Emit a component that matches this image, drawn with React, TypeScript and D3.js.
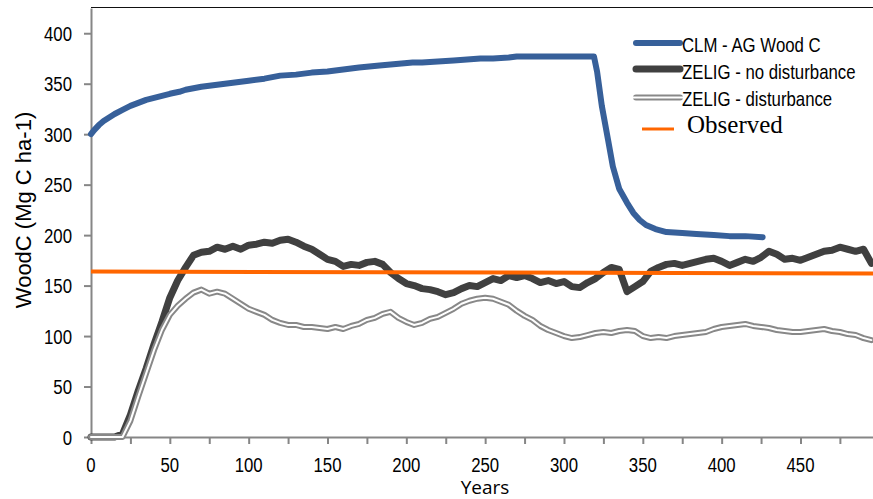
import React, { useEffect, useRef } from 'react';
import * as d3 from 'd3';

// CLM above-ground wood carbon (Mg C / ha)
const clmYears = [0, 2, 5, 8, 10, 15, 20, 25, 30, 35, 40, 45, 50, 56, 60, 70, 80, 90, 100, 110,
	120, 130, 140, 150, 160, 170, 183, 190, 204, 210, 220, 230, 247, 255, 265, 270, 280, 290, 300, 310,
	319, 321, 324, 328, 331, 335, 340, 344, 348, 352, 358, 365, 375, 384, 395, 405, 415, 426];
const clmValues = [300, 304, 309, 313, 315, 320, 324, 328, 331, 334, 336, 338, 340, 342, 344, 347, 349, 351, 353, 355,
	358, 359, 361, 362, 364, 366, 368, 369, 371, 371, 372, 373, 375, 375, 376, 377, 377, 377, 377, 377,
	377, 362, 328, 294, 268, 246, 232, 222, 215, 210, 206, 203, 202, 201, 200, 199, 199, 198];

const zeligYears = [0, 5, 10, 15, 20, 25, 30, 35, 40, 45, 50, 55, 60, 65, 70, 75, 80, 85, 90, 95,
	100, 105, 110, 115, 120, 125, 130, 135, 140, 145, 150, 155, 160, 165, 170, 175, 180, 185, 190, 195,
	200, 205, 210, 215, 220, 225, 230, 235, 240, 245, 250, 255, 260, 265, 270, 275, 280, 285, 290, 295,
	300, 305, 310, 315, 320, 325, 330, 335, 340, 345, 350, 355, 360, 365, 370, 375, 380, 385, 390, 395,
	400, 405, 410, 415, 420, 425, 430, 435, 440, 445, 450, 455, 460, 465, 470, 475, 480, 485, 490, 495];
const zeligNoDist = [0, 0, 0, 0, 3, 22, 46, 68, 92, 114, 138, 155, 168, 180, 183, 184, 188, 186, 189, 186,
	190, 191, 193, 192, 195, 196, 193, 189, 186, 181, 176, 174, 169, 171, 170, 173, 174, 171, 163, 157,
	152, 150, 147, 146, 144, 141, 143, 147, 150, 149, 153, 157, 155, 160, 158, 160, 157, 153, 155, 152,
	154, 149, 148, 153, 157, 163, 168, 166, 144, 149, 154, 164, 168, 171, 172, 170, 172, 174, 176, 177,
	174, 170, 173, 176, 174, 178, 184, 181, 176, 177, 175, 178, 181, 184, 185, 188, 186, 184, 186, 172];
const zeligDist = [0, 0, 0, 0, 0, 16, 40, 63, 86, 106, 121, 130, 137, 143, 146, 142, 144, 142, 137, 132,
	127, 124, 121, 116, 113, 111, 111, 109, 109, 108, 107, 109, 107, 110, 112, 116, 118, 122, 124, 118,
	114, 111, 113, 117, 119, 123, 127, 132, 135, 137, 138, 137, 134, 131, 125, 120, 116, 110, 106, 103,
	100, 98, 99, 101, 103, 104, 103, 105, 106, 105, 100, 98, 99, 98, 100, 101, 102, 103, 104, 107,
	109, 110, 111, 112, 110, 109, 108, 106, 105, 104, 104, 105, 106, 107, 105, 104, 102, 101, 98, 96];

const observedYears = [0, 496];
const observedValues = [164, 162];

const yTickLabels = [0, 50, 100, 150, 200, 250, 300, 350, 400];
const xTickMarks = [0, 25, 50, 75, 100, 125, 150, 175, 200, 225, 250, 275, 300, 325, 350, 375, 400, 425, 450, 475];
const xTickLabels = [0, 50, 100, 150, 200, 250, 300, 350, 400, 450];

const legendLabels = ['CLM - AG Wood C', 'ZELIG - no disturbance', 'ZELIG - disturbance', 'Observed'];

const sans = 'Liberation Sans, Arial, sans-serif';
const axisGrey = '#868686';

const zip = (xs, ys) => xs.map((v, i) => [v, ys[i]]);

const drawChart = (el) => {
	const svg = d3.select(el);
	svg.selectAll('*').remove();

	const x = d3.scaleLinear().domain([0, 496]).range([91, 873]);
	const y = d3.scaleLinear().domain([0, 425]).range([437, 8]);
	const line = d3.line().x((d) => x(d[0])).y((d) => y(d[1]));

	// top border of plot area
	svg.append('line')
		.attr('x1', 91).attr('x2', 873)
		.attr('y1', 7.5).attr('y2', 7.5)
		.attr('stroke', '#111').attr('stroke-width', 1);

	const yAxis = svg.append('g')
		.attr('transform', 'translate(91,0)')
		.call(d3.axisLeft(y).tickValues(yTickLabels).tickSize(7).tickSizeOuter(0).tickFormat(() => ''));
	const xAxis = svg.append('g')
		.attr('transform', 'translate(0,437)')
		.call(d3.axisBottom(x).tickValues(xTickMarks).tickSize(7).tickSizeOuter(0).tickFormat(() => ''));
	[yAxis, xAxis].forEach((g) => {
		g.selectAll('path, line').attr('stroke', axisGrey).attr('stroke-width', 2);
	});

	svg.append('g').selectAll('text')
		.data(yTickLabels)
		.join('text')
		.attr('transform', (d) => `translate(72,${ y(d) + 7.5 }) scale(0.8,1)`)
		.attr('text-anchor', 'end')
		.attr('font-family', sans)
		.attr('font-size', 21)
		.attr('fill', '#000')
		.text((d) => d);

	svg.append('g').selectAll('text')
		.data(xTickLabels)
		.join('text')
		.attr('transform', (d) => `translate(${ x(d) },472) scale(0.8,1)`)
		.attr('text-anchor', 'middle')
		.attr('font-family', sans)
		.attr('font-size', 21)
		.attr('fill', '#000')
		.text((d) => d);

	svg.append('text')
		.attr('transform', 'translate(31,210) rotate(-90)')
		.attr('text-anchor', 'middle')
		.attr('font-family', sans)
		.attr('font-size', 22)
		.text('WoodC (Mg C ha-1)');

	svg.append('text')
		.attr('x', 485).attr('y', 494)
		.attr('text-anchor', 'middle')
		.attr('font-family', 'Open Sans, sans-serif')
		.attr('font-size', 19)
		.text('Years');

	// series
	const plot = svg.append('g')
		.attr('fill', 'none')
		.attr('stroke-linejoin', 'round')
		.attr('stroke-linecap', 'round');

	plot.append('path')
		.attr('d', line(zip(clmYears, clmValues)))
		.attr('stroke', '#37609a').attr('stroke-width', 6);
	plot.append('path')
		.attr('d', line(zip(zeligYears, zeligNoDist)))
		.attr('stroke', '#404040').attr('stroke-width', 7);
	const distPts = zip(zeligYears, zeligDist);
	plot.append('path')
		.attr('d', line(distPts))
		.attr('stroke', '#888').attr('stroke-width', 6);
	plot.append('path')
		.attr('d', line(distPts))
		.attr('stroke', '#fff').attr('stroke-width', 2);
	plot.append('path')
		.attr('d', line(zip(observedYears, observedValues)))
		.attr('stroke', '#ff6600').attr('stroke-width', 4).attr('stroke-linecap', 'butt');

	// legend
	const legend = svg.append('g');
	const lg = (y1, stroke, width, x1 = 636, x2 = 680) => legend.append('line')
		.attr('x1', x1).attr('x2', x2).attr('y1', y1).attr('y2', y1)
		.attr('stroke', stroke).attr('stroke-width', width).attr('stroke-linecap', 'round');
	lg(43, '#37609a', 6);
	lg(69, '#404040', 7);
	lg(97.5, '#888', 6);
	lg(97.5, '#fff', 2, 633, 683);
	lg(129, '#ff6600', 3, 642, 674).attr('stroke-linecap', 'butt');

	const legendY = [52, 79, 106];
	legend.selectAll('text.sans')
		.data(legendLabels.slice(0, 3))
		.join('text')
		.attr('class', 'sans')
		.attr('transform', (d, i) => `translate(682,${ legendY[i] }) scale(0.84,1)`)
		.attr('font-family', sans)
		.attr('font-size', 20)
		.text((d) => d);
	legend.append('text')
		.attr('x', 687).attr('y', 133)
		.attr('font-family', 'Liberation Serif, Times New Roman, serif')
		.attr('font-size', 25)
		.text(legendLabels[3]);
};

const App = () => {
	const ref = useRef(null);

	useEffect(() => drawChart(ref.current), []);

	return (
		<svg
			ref={ ref }
			width={ 873 }
			height={ 499 }
			style={ { position: 'absolute', left: 0, top: 0, background: '#fff' } }
		/>
	);
};

export default App;
